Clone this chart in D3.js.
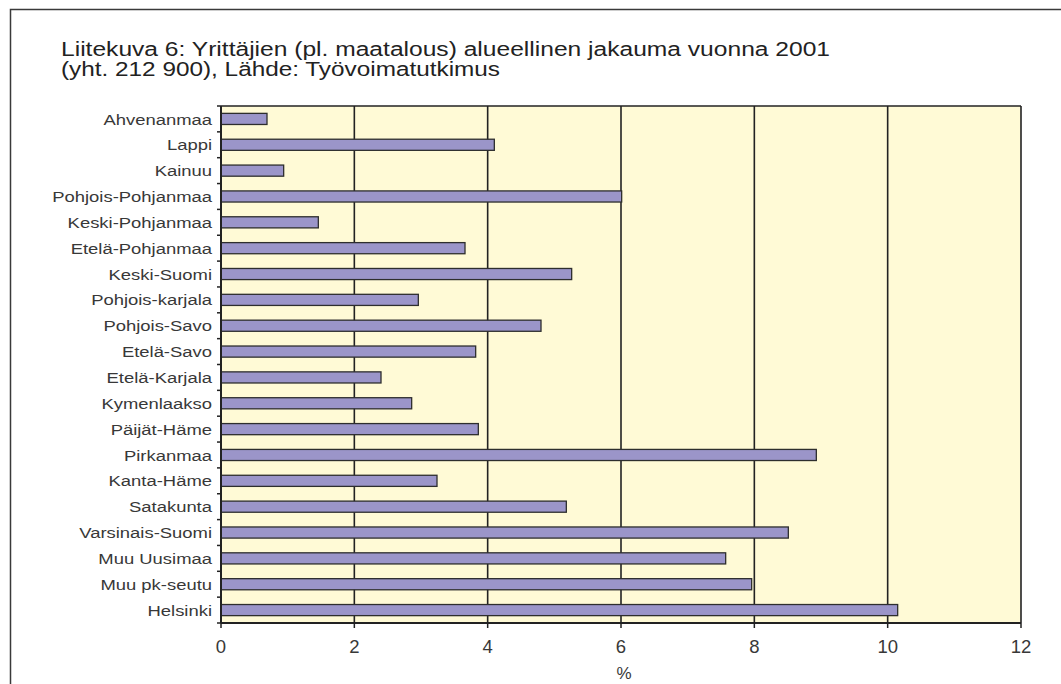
<!DOCTYPE html>
<html>
<head>
<meta charset="utf-8">
<script src="https://cdn.jsdelivr.net/npm/d3@7"></script>
<style>
  html, body { margin: 0; padding: 0; background: #fff; }
  svg { display: block; font-family: "Liberation Sans", Arial, Helvetica, sans-serif; }
</style>
</head>
<body>
<svg id="chart" width="1061" height="684"></svg>
<script>
const titleLines = [
  "Liitekuva 6: Yrittäjien (pl. maatalous) alueellinen jakauma vuonna 2001",
  "(yht. 212 900), Lähde: Työvoimatutkimus"
];
const categories = [
  "Ahvenanmaa", "Lappi", "Kainuu", "Pohjois-Pohjanmaa", "Keski-Pohjanmaa",
  "Etelä-Pohjanmaa", "Keski-Suomi", "Pohjois-karjala", "Pohjois-Savo", "Etelä-Savo",
  "Etelä-Karjala", "Kymenlaakso", "Päijät-Häme", "Pirkanmaa", "Kanta-Häme",
  "Satakunta", "Varsinais-Suomi", "Muu Uusimaa", "Muu pk-seutu", "Helsinki"
];
const values = [
  0.69, 4.10, 0.94, 6.01, 1.46,
  3.66, 5.26, 2.96, 4.80, 3.82,
  2.40, 2.86, 3.86, 8.93, 3.24,
  5.18, 8.51, 7.57, 7.96, 10.15
];
const xTicks = [0, 2, 4, 6, 8, 10, 12];
const xLabel = "%";

const svg = d3.select("#chart");
const m = { left: 221, right: 1021, top: 106, bottom: 623 };

// outer frame (extends past right/bottom edges)
svg.append("rect")
  .attr("x", 10.5).attr("y", 9.5)
  .attr("width", 1100).attr("height", 700)
  .attr("fill", "none").attr("stroke", "#3a3a3a").attr("stroke-width", 1.5);

// title (horizontally stretched like the reference)
const titleWidths = [769, 439];
svg.append("g").selectAll("text").data(titleLines).join("text")
  .attr("x", 61).attr("y", (d, i) => 55.5 + i * 20.5)
  .attr("font-size", 20).attr("fill", "#222")
  .attr("textLength", (d, i) => titleWidths[i])
  .attr("lengthAdjust", "spacingAndGlyphs")
  .text(d => d);

const x = d3.scaleLinear().domain([0, 12]).range([m.left, m.right]);
const y = d3.scaleBand().domain(categories).range([m.top, m.bottom])
  .paddingInner(0.57).paddingOuter(0.285);

// plot background
svg.append("rect")
  .attr("x", x(0)).attr("y", m.top)
  .attr("width", x(12) - x(0)).attr("height", m.bottom - m.top)
  .attr("fill", "#fffad6");

// gridlines
svg.append("g").selectAll("line").data(xTicks.filter(t => t > 0)).join("line")
  .attr("x1", d => x(d)).attr("x2", d => x(d))
  .attr("y1", m.top).attr("y2", m.bottom)
  .attr("stroke", "#222").attr("stroke-width", 1.6);

// top border
svg.append("line")
  .attr("x1", x(0)).attr("x2", x(12))
  .attr("y1", m.top).attr("y2", m.top)
  .attr("stroke", "#222").attr("stroke-width", 1.6);

// bars
svg.append("g").selectAll("rect").data(categories).join("rect")
  .attr("x", x(0))
  .attr("y", d => y(d))
  .attr("width", (d, i) => x(values[i]) - x(0))
  .attr("height", y.bandwidth())
  .attr("fill", "#9b95c9")
  .attr("stroke", "#2e2e2e").attr("stroke-width", 1.3);

// y axis
const yBounds = [m.top].concat(categories.map(d => y(d) + y.bandwidth() / 2 + y.step() / 2));
const yAxis = svg.append("g");
yAxis.append("line")
  .attr("x1", x(0)).attr("x2", x(0)).attr("y1", m.top).attr("y2", m.bottom)
  .attr("stroke", "#222").attr("stroke-width", 2);
yAxis.selectAll("line.tick").data(yBounds).join("line").attr("class", "tick")
  .attr("x1", x(0) - 4).attr("x2", x(0))
  .attr("y1", d => d).attr("y2", d => d)
  .attr("stroke", "#222").attr("stroke-width", 1.5);
yAxis.selectAll("text").data(categories).join("text")
  .attr("transform", d => `translate(${x(0) - 9},${y(d) + y.bandwidth() / 2}) scale(1.19,1)`)
  .attr("dy", "0.36em")
  .attr("text-anchor", "end")
  .attr("font-size", 15.5).attr("fill", "#383838")
  .text(d => d);

// x axis
const xAxis = svg.append("g");
xAxis.append("line")
  .attr("x1", x(0)).attr("x2", x(12)).attr("y1", m.bottom).attr("y2", m.bottom)
  .attr("stroke", "#222").attr("stroke-width", 2);
xAxis.selectAll("line.tick").data(xTicks).join("line").attr("class", "tick")
  .attr("x1", d => x(d)).attr("x2", d => x(d))
  .attr("y1", m.bottom).attr("y2", m.bottom + 5)
  .attr("stroke", "#222").attr("stroke-width", 1.5);
xAxis.selectAll("text").data(xTicks).join("text")
  .attr("x", d => x(d)).attr("y", 653)
  .attr("text-anchor", "middle")
  .attr("font-size", 18.5).attr("fill", "#383838")
  .text(d => d);

svg.append("text")
  .attr("x", (x(0) + x(12)) / 2 + 3).attr("y", 679)
  .attr("text-anchor", "middle")
  .attr("font-size", 17).attr("fill", "#383838")
  .text(xLabel);
</script>
</body>
</html>
